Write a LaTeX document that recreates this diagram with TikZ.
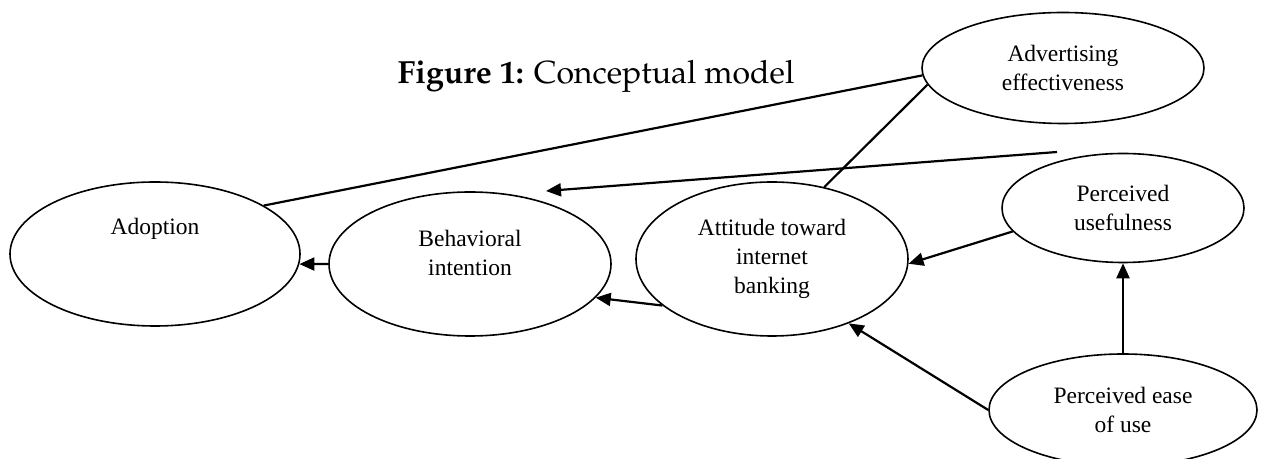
\documentclass[tikz,border=0pt]{standalone}
\usepackage[T1]{fontenc}
\usepackage{fontspec}
\setmainfont{Liberation Serif}
\usetikzlibrary{arrows.meta, shapes.geometric}
\newcommand{\titlefont}{\fontencoding{T1}\fontfamily{ppl}\fontsize{16}{19}\selectfont}
\newcommand{\boxfont}{\fontsize{11.75}{14.5}\selectfont}

\begin{document}
\begin{tikzpicture}[x=0.5pt, y=-0.5pt,
    concept/.style={ellipse, draw, line width=0.8pt, inner sep=0pt, align=center, font=\boxfont},
    link/.style={line width=1.1pt},
    arrow/.style={link, -{Triangle[length=7.5pt, width=6.5pt]}}]
    \useasboundingbox (0,0) rectangle (1266,459);
    \node[font=\titlefont, anchor=base] (title) at (596,84) {\textbf{Figure 1:} Conceptual model};
    \node[concept, minimum width=145pt, minimum height=72pt,
        label={[font=\boxfont, yshift=12.5pt]center:Adoption}] (adopt) at (155,254) {};
    \node[concept, minimum width=141pt, minimum height=72pt,
        label={[font=\boxfont, align=center, yshift=5.75pt]center:Behavioral\\intention}] (bi) at (470,264) {};
    \node[concept, minimum width=136pt, minimum height=77pt] (att) at (772,259) {Attitude toward\\internet\\banking};
    \node[concept, minimum width=141pt, minimum height=55.5pt] (adv) at (1063,68) {Advertising\\effectiveness};
    \node[concept, minimum width=121pt, minimum height=54.5pt] (pu) at (1123,208) {Perceived\\usefulness};
    \node[concept, minimum width=134pt, minimum height=56pt] (peou) at (1123,410) {Perceived ease\\of use};
    \coordinate (advtail) at (1057,152);
    \coordinate (bitip) at (546,191);
    \draw[link] (adv.183) -- (adopt.24);
    \draw[link] (adv.187) -- (att.54);
    \draw[arrow] (advtail) -- (bitip);
    \draw[arrow] (att.203) -- (bi.345);
    \draw[arrow] (bi.west) -- (adopt.356);
    \draw[arrow] (pu.192) -- (att.358);
    \draw[arrow] (peou) -- (pu);
    \draw[arrow] (peou.west) -- (att.320);
\end{tikzpicture}
\end{document}
